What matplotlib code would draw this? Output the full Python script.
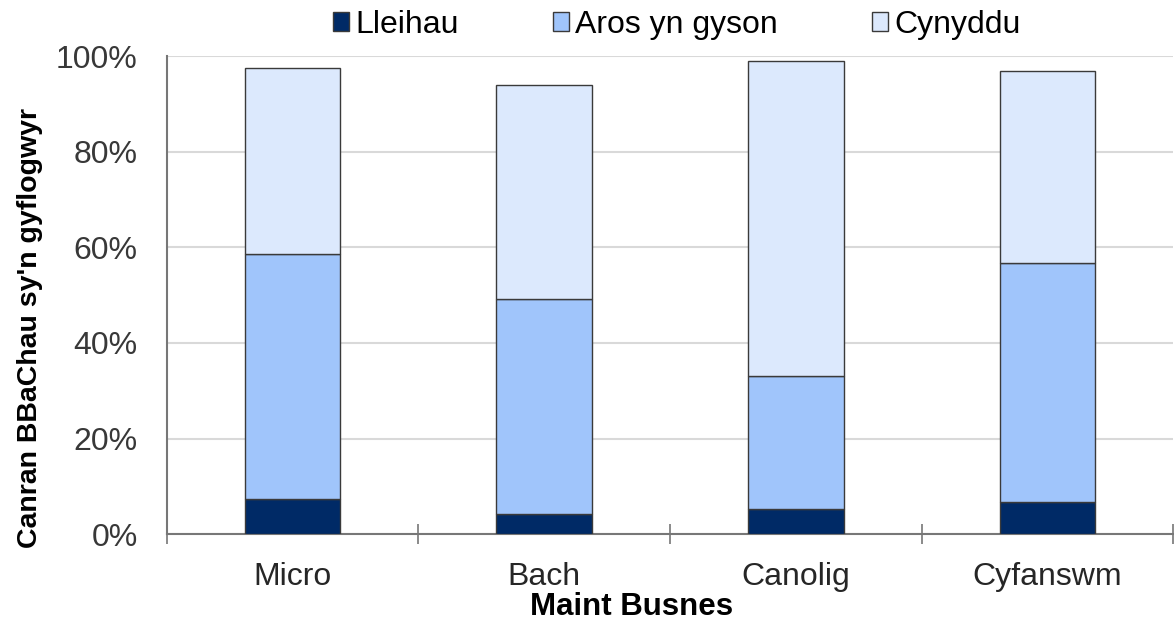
import numpy as np
import matplotlib.pyplot as plt
from matplotlib.patches import Patch
from matplotlib.ticker import PercentFormatter

plt.rcParams['font.family'] = ['Liberation Sans', 'DejaVu Sans']

# Share of SMEs that are employers, by business size
categories = ["Micro", "Bach", "Canolig", "Cyfanswm"]
series_names = ["Lleihau", "Aros yn gyson", "Cynyddu"]
lleihau = [7.3, 4.2, 5.2, 6.8]
aros = [51.3, 45.0, 27.9, 49.9]
cynyddu = [38.9, 44.7, 65.9, 40.2]
colours = ["#002a66", "#a0c5fb", "#dce9fd"]

fig = plt.figure(figsize=(11.74, 6.23), dpi=100)
ax = fig.add_axes([0.1422, 0.1425, 0.857, 0.7675])

x = np.arange(len(categories))
bottom = np.zeros(len(categories))
for vals, col in zip([lleihau, aros, cynyddu], colours):
    ax.bar(x, vals, width=0.38, bottom=bottom, color=col,
           edgecolor="#3a3a3a", linewidth=1.0, zorder=3)
    bottom += np.array(vals)

ax.set_xlim(-0.5, len(categories) - 0.5)
ax.set_ylim(0, 100)
ax.set_yticks(np.arange(0, 101, 20))
ax.yaxis.set_major_formatter(PercentFormatter(decimals=0))
ax.grid(axis="y", color="#d9d9d9", linewidth=1.5, zorder=0)

ax.set_xticks(x)
ax.set_xticklabels(categories)
ax.set_xticks(np.arange(-0.5, len(categories)), minor=True)
ax.tick_params(axis="x", which="major", length=0, pad=20,
               labelsize=23, labelcolor="#262626")
ax.tick_params(axis="x", which="minor", length=15, width=1.2,
               direction="inout", color="#777777")
ax.tick_params(axis="y", length=0, pad=21, labelsize=23, labelcolor="#383838")

for s in ["top", "right"]:
    ax.spines[s].set_visible(False)
for s in ["left", "bottom"]:
    ax.spines[s].set_color("#777777")
    ax.spines[s].set_linewidth(1.5)

ax.set_xlabel("Maint Busnes", fontsize=22.5, fontweight="bold")
ax.xaxis.set_label_coords(0.462, -0.1695)
ax.xaxis.label.set_va("baseline")
ax.set_ylabel("Canran BBaChau sy'n gyflogwyr", fontsize=20.5, fontweight="bold")
ax.yaxis.set_label_coords(-0.123, 0.432)

handles = [Patch(facecolor=c, edgecolor="#3a3a3a", linewidth=1.0) for c in colours]
fig.legend(handles, series_names, loc="center", bbox_to_anchor=(0.5765, 0.96),
           ncol=3, frameon=False, fontsize=23, handlelength=0.5,
           handleheight=0.5, handletextpad=0.2, columnspacing=2.95)

fig.savefig("out.png", dpi=100)
